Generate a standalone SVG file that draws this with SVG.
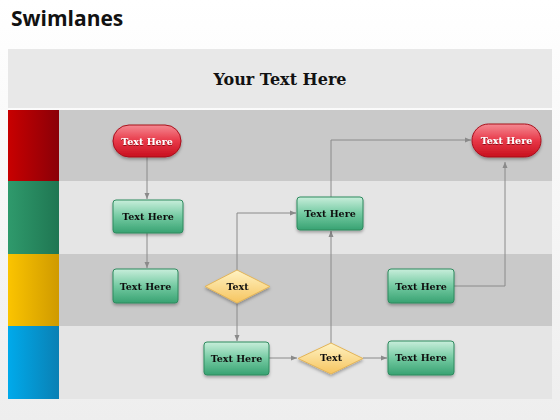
<svg xmlns="http://www.w3.org/2000/svg" width="560" height="420" viewBox="0 0 560 420">
<style>
.lane-d{fill:#c9c9c9}
.lane-l{fill:#e5e5e5}
.box{fill:url(#gGreen);stroke:#2f8a5e;stroke-width:1}
.pill{fill:url(#gRed);stroke:#a8101c;stroke-width:1}
.dia{fill:url(#gYel);stroke:#e3b458;stroke-width:1}
.t{font-family:"DejaVu Serif","Liberation Serif",serif;font-weight:bold;font-size:9.5px;text-anchor:middle;fill:#111}
.tw{font-family:"DejaVu Serif","Liberation Serif",serif;font-weight:bold;font-size:9.5px;text-anchor:middle;fill:#fff}
.con{fill:none;stroke:#8a8a8a;stroke-width:1;marker-end:url(#arr)}
</style>
<defs>
<linearGradient id="bg" x1="0" y1="0" x2="0" y2="1"><stop offset="0" stop-color="#ffffff"/><stop offset="1" stop-color="#eeeeee"/></linearGradient>
<linearGradient id="gGreen" x1="0" y1="0" x2="0" y2="1"><stop offset="0" stop-color="#c8eedb"/><stop offset="0.5" stop-color="#74caa2"/><stop offset="1" stop-color="#38a272"/></linearGradient>
<linearGradient id="gRed" x1="0" y1="0" x2="0" y2="1"><stop offset="0" stop-color="#f48a92"/><stop offset="0.5" stop-color="#e83848"/><stop offset="1" stop-color="#c8101e"/></linearGradient>
<linearGradient id="gYel" x1="0" y1="0" x2="0" y2="1"><stop offset="0" stop-color="#fff3c4"/><stop offset="1" stop-color="#f6c45e"/></linearGradient>
<linearGradient id="bRed" x1="0" y1="0" x2="1" y2="0"><stop offset="0" stop-color="#c80000"/><stop offset="1" stop-color="#8a0008"/></linearGradient>
<linearGradient id="bGreen" x1="0" y1="0" x2="1" y2="0"><stop offset="0" stop-color="#2f9a6c"/><stop offset="1" stop-color="#1f7652"/></linearGradient>
<linearGradient id="bYel" x1="0" y1="0" x2="1" y2="0"><stop offset="0" stop-color="#fbc400"/><stop offset="1" stop-color="#cf9a00"/></linearGradient>
<linearGradient id="bBlue" x1="0" y1="0" x2="1" y2="0"><stop offset="0" stop-color="#00aaeb"/><stop offset="1" stop-color="#0a80b4"/></linearGradient>
<filter id="sh" x="-20%" y="-20%" width="140%" height="160%"><feDropShadow dx="0" dy="2" stdDeviation="1.5" flood-color="#000" flood-opacity="0.3"/></filter>
<filter id="ts" x="-10%" y="-30%" width="120%" height="160%"><feDropShadow dx="0" dy="1" stdDeviation="0.5" flood-color="#600" flood-opacity="0.7"/></filter>
<marker id="arr" viewBox="0 0 6 6" refX="6" refY="3" markerWidth="6" markerHeight="6" orient="auto" markerUnits="userSpaceOnUse"><path d="M0,0.5 L6,3 L0,5.5 Z" fill="#8a8a8a"/></marker>
</defs>
<rect x="0" y="0" width="560" height="420" fill="url(#bg)"/>
<text x="11" y="26" font-family="'Open Sans','Liberation Sans',sans-serif" font-weight="bold" font-size="21" fill="#111">Swimlanes</text>
<g id="header">
<rect x="8" y="49" width="544" height="59" fill="#e8e8e8"/>
<text x="280" y="85" font-family="'DejaVu Serif','Liberation Serif',serif" font-weight="bold" font-size="16" text-anchor="middle" fill="#111">Your Text Here</text>
</g>
<g id="lanes">
<rect class="lane-d" x="59" y="110" width="493" height="71"/>
<rect class="lane-l" x="59" y="181" width="493" height="73"/>
<rect class="lane-d" x="59" y="254" width="493" height="72"/>
<rect class="lane-l" x="59" y="326" width="493" height="73"/>
<rect x="8" y="110" width="51" height="71" fill="url(#bRed)"/>
<rect x="8" y="181" width="51" height="73" fill="url(#bGreen)"/>
<rect x="8" y="254" width="51" height="72" fill="url(#bYel)"/>
<rect x="8" y="326" width="51" height="73" fill="url(#bBlue)"/>
</g>
<g id="connectors">
<path class="con" d="M147,157 L147,199"/>
<path class="con" d="M147,233 L147,268"/>
<path class="con" d="M237,270 L237,213 L296,213"/>
<path class="con" d="M237,303 L237,341"/>
<path class="con" d="M269,358 L297,358"/>
<path class="con" d="M363,358 L387,358"/>
<path class="con" d="M331,343 L331,231"/>
<path class="con" d="M331,197 L331,140 L471,140"/>
<path class="con" d="M454,286 L505,286 L505,162"/>
</g>
<g id="n1" filter="url(#sh)"><rect class="pill" x="113" y="125" width="68" height="32" rx="16"/><text class="tw" x="147" y="144.5" filter="url(#ts)">Text Here</text></g>
<g id="n2" filter="url(#sh)"><rect class="pill" x="472" y="124" width="69" height="33" rx="16.5"/><text class="tw" x="506.5" y="144" filter="url(#ts)">Text Here</text></g>
<g id="n3" filter="url(#sh)"><rect class="box" x="113" y="200" width="70" height="33" rx="3"/><text class="t" x="148" y="220">Text Here</text></g>
<g id="n4" filter="url(#sh)"><rect class="box" x="113" y="269" width="65" height="34" rx="3"/><text class="t" x="145.5" y="289.5">Text Here</text></g>
<g id="n5" filter="url(#sh)"><path class="dia" d="M237,270 L270,286.5 L237,303 L205,286.5 Z"/><text class="t" x="237.5" y="290">Text</text></g>
<g id="n6" filter="url(#sh)"><rect class="box" x="297" y="197" width="66" height="33" rx="3"/><text class="t" x="330" y="217">Text Here</text></g>
<g id="n7" filter="url(#sh)"><rect class="box" x="204" y="342" width="65" height="33" rx="3"/><text class="t" x="236.5" y="362">Text Here</text></g>
<g id="n8" filter="url(#sh)"><path class="dia" d="M331,343 L363,358.5 L331,374 L298,358.5 Z"/><text class="t" x="331" y="361">Text</text></g>
<g id="n9" filter="url(#sh)"><rect class="box" x="388" y="341" width="66" height="34" rx="3"/><text class="t" x="421" y="361">Text Here</text></g>
<g id="n10" filter="url(#sh)"><rect class="box" x="388" y="269" width="66" height="34" rx="3"/><text class="t" x="421" y="289.5">Text Here</text></g>
</svg>
